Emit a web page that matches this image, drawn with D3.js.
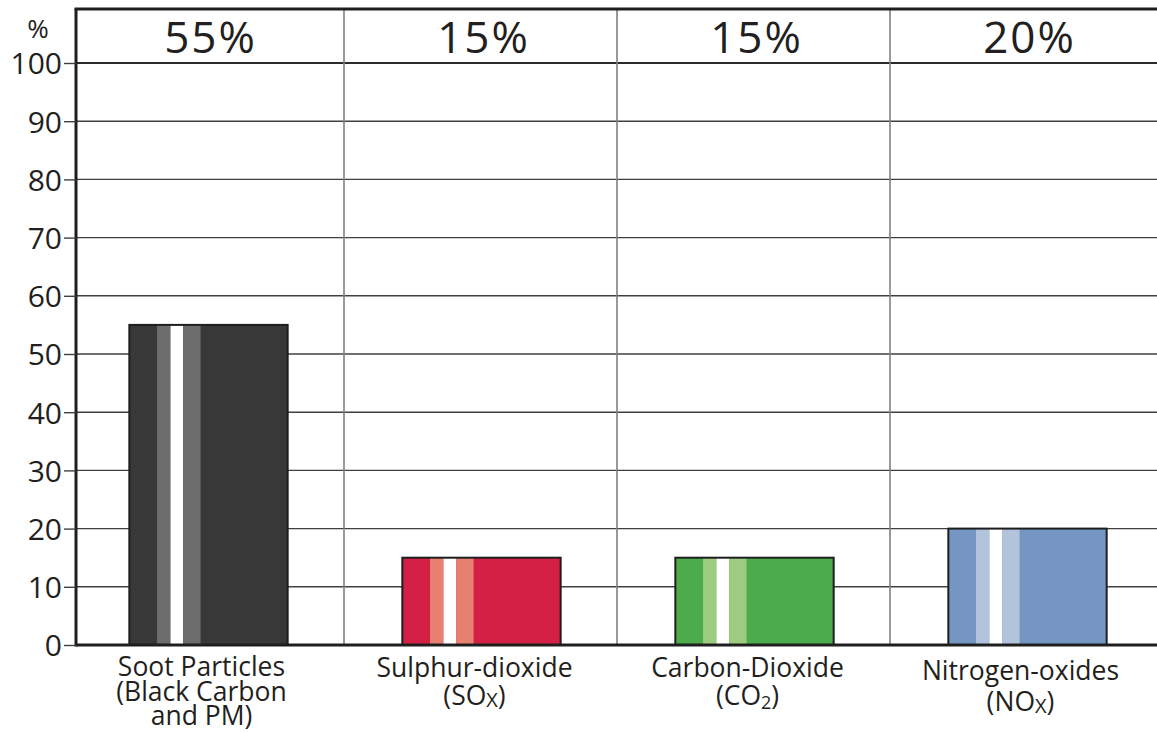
<!DOCTYPE html>
<meta charset="utf-8">
<title>Emissions share</title>
<script src="https://d3js.org/d3.v7.min.js"></script>
<style>
  body { margin: 0; background: #fff; }
  svg text { font-family: "Open Sans", "Noto Sans", sans-serif; fill: #231f20; }
</style>
<body>
<div id="chart"></div>
<script>
// data
var categories = ["Soot Particles", "Sulphur-dioxide", "Carbon-Dioxide", "Nitrogen-oxides"];
var values = [55, 15, 15, 20];
var topLabels = ["55%", "15%", "15%", "20%"];
// label lines, "_" marks the start of a small/subscript part, ")" closes it
var labelLines = [
  ["Soot Particles", "(Black Carbon", "and PM)"],
  ["Sulphur-dioxide", "(SO_X)"],
  ["Carbon-Dioxide", "(CO_2)"],
  ["Nitrogen-oxides", "(NO_X)"]
];
var yTicks = [0, 10, 20, 30, 40, 50, 60, 70, 80, 90, 100];
var barColors = ["#383838", "#d42045", "#4cab4b", "#7596c2"];
var stripeColors = ["#6d6d6d", "#e88072", "#9dcb7f", "#b4c3dc"];

var W = 1157, H = 733;
var left = 76, topY = 9;

var svg = d3.select("#chart").append("svg")
  .attr("width", W).attr("height", H);

var x = d3.scaleBand().domain(categories).range([71, 1163]).padding(0);
var y = d3.scaleLinear().domain([0, 100]).range([645, 63]);

var barW = x.bandwidth() * 0.58;

// horizontal gridlines
svg.append("g").selectAll("line")
  .data(yTicks.filter(function(d) { return d > 0; }))
  .enter().append("line")
    .attr("x1", left).attr("x2", W)
    .attr("y1", function(d) { return y(d); })
    .attr("y2", function(d) { return y(d); })
    .attr("stroke", function(d) { return d == 100 ? "#2a2a2a" : "#404040"; })
    .attr("stroke-width", function(d) { return d == 100 ? 2.2 : 1.4; });

// vertical separators
svg.append("g").selectAll("line")
  .data(categories.slice(1))
  .enter().append("line")
    .attr("x1", function(d) { return x(d); })
    .attr("x2", function(d) { return x(d); })
    .attr("y1", topY).attr("y2", y(0))
    .attr("stroke", "#808080")
    .attr("stroke-width", 1.6);

// bars
var bars = svg.append("g").selectAll("g")
  .data(categories)
  .enter().append("g")
    .attr("transform", function(d) {
      return "translate(" + (x(d) + x.bandwidth() / 2 - barW / 2 + 1) + ",0)";
    });

bars.append("rect")
  .attr("x", 0)
  .attr("y", function(d, i) { return y(values[i]); })
  .attr("width", barW)
  .attr("height", function(d, i) { return y(0) - y(values[i]); })
  .attr("fill", function(d, i) { return barColors[i]; });

// light stripes and the white one
var stripes = [[0.175, 0.26, "s"], [0.26, 0.34, "w"], [0.34, 0.45, "s"]];
bars.each(function(d, i) {
  d3.select(this).selectAll("rect.stripe")
    .data(stripes)
    .enter().append("rect")
      .attr("class", "stripe")
      .attr("x", function(s) { return s[0] * barW; })
      .attr("width", function(s) { return (s[1] - s[0]) * barW; })
      .attr("y", y(values[i]))
      .attr("height", y(0) - y(values[i]))
      .attr("fill", function(s) { return s[2] == "w" ? "#fff" : stripeColors[i]; });
});

bars.append("rect")
  .attr("x", 0)
  .attr("y", function(d, i) { return y(values[i]); })
  .attr("width", barW)
  .attr("height", function(d, i) { return y(0) - y(values[i]); })
  .attr("fill", "none")
  .attr("stroke", "#1e1e1e")
  .attr("stroke-width", 2);

// top border, left axis line, bottom axis line
svg.append("line").attr("x1", left - 1.5).attr("x2", W)
  .attr("y1", topY).attr("y2", topY)
  .attr("stroke", "#1e1e1e").attr("stroke-width", 3);
svg.append("line").attr("x1", left).attr("x2", left)
  .attr("y1", topY).attr("y2", y(0) + 1.5)
  .attr("stroke", "#1e1e1e").attr("stroke-width", 3);
svg.append("line").attr("x1", left).attr("x2", W)
  .attr("y1", y(0)).attr("y2", y(0))
  .attr("stroke", "#1e1e1e").attr("stroke-width", 3);

// y axis
var yAxis = svg.append("g")
  .attr("transform", "translate(" + left + ",0)")
  .call(d3.axisLeft(y).tickValues(yTicks).tickSize(12).tickPadding(2));
yAxis.select(".domain").remove();
yAxis.selectAll(".tick line").attr("stroke", "#404040").attr("stroke-width", 1.4);
yAxis.selectAll(".tick text")
  .attr("font-family", "'Open Sans', sans-serif")
  .attr("font-size", 30)
  .attr("fill", "#231f20")
  .attr("dy", "0.36em");

svg.append("text")
  .attr("x", 38).attr("y", 38)
  .attr("text-anchor", "middle")
  .attr("font-size", 26)
  .text("%");

// percent labels in the header row
svg.append("g").selectAll("text")
  .data(categories)
  .enter().append("text")
    .attr("x", function(d) { return x(d) + x.bandwidth() / 2 + 3; })
    .attr("y", 53)
    .attr("text-anchor", "middle")
    .attr("font-size", 44)
    .attr("letter-spacing", 2)
    .text(function(d, i) { return topLabels[i]; });

// category labels, one text per line
var baseY = [676, 677, 677, 680];
var lineGap = [24.5, 28, 28, 31];
labelLines.forEach(function(lines, i) {
  var cx = x(categories[i]) + x.bandwidth() / 2 - 6;
  lines.forEach(function(line, j) {
    var t = svg.append("text")
      .attr("text-anchor", "middle")
      .attr("font-size", 26.5)
      .attr("x", cx)
      .attr("y", baseY[i] + j * lineGap[i]);
    var k = line.indexOf("_");
    if (k < 0) {
      t.text(line);
    } else {
      var small = line.slice(k + 1, line.length - 1);
      var sub = small == "2";
      t.append("tspan").text(line.slice(0, k));
      t.append("tspan").attr("font-size", sub ? 18 : 20)
        .attr("dy", sub ? 4 : 2).text(small);
      t.append("tspan").attr("dy", sub ? -4 : -2).text(")");
    }
  });
});
</script>
</body>
